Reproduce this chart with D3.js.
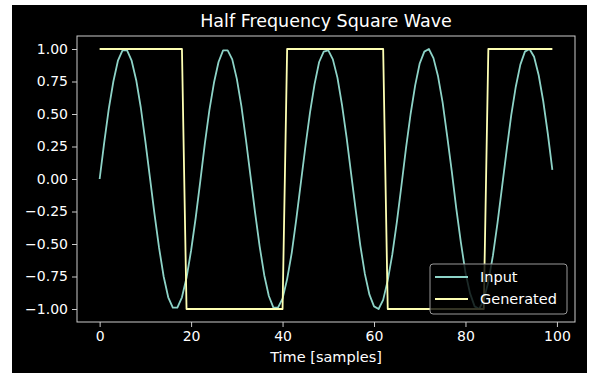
<!DOCTYPE html>
<html>
<head>
<meta charset="utf-8">
<script src="https://cdn.jsdelivr.net/npm/d3@7"></script>
<style>
  body { margin: 0; background: #fff; }
  svg { display: block; }
  text { font-family: "DejaVu Sans", sans-serif; fill: #fff; }
</style>
</head>
<body>
<div id="my_dataviz"></div>
<script>
// the values
var inputValues = [
  0.00, 0.28, 0.54, 0.75, 0.91, 0.99, 0.99, 0.91, 0.76, 0.55,
  0.29, 0.01, -0.27, -0.53, -0.75, -0.91, -0.99, -0.99, -0.91, -0.76,
  -0.55, -0.30, -0.02, 0.27, 0.53, 0.74, 0.90, 0.99, 0.99, 0.92,
  0.77, 0.56, 0.30, 0.02, -0.26, -0.52, -0.74, -0.90, -0.99, -0.99,
  -0.92, -0.77, -0.57, -0.31, -0.03, 0.25, 0.51, 0.73, 0.90, 0.98,
  0.99, 0.92, 0.78, 0.57, 0.32, 0.04, -0.24, -0.51, -0.73, -0.89,
  -0.98, -1.00, -0.93, -0.78, -0.58, -0.33, -0.05, 0.24, 0.50, 0.72,
  0.89, 0.98, 1.00, 0.93, 0.79, 0.59, 0.33, 0.06, -0.23, -0.49,
  -0.72, -0.88, -0.98, -1.00, -0.93, -0.79, -0.59, -0.34, -0.06, 0.22,
  0.49, 0.71, 0.88, 0.98, 1.00, 0.94, 0.80, 0.60, 0.35, 0.07
];

var generatedValues = [
  1, 1, 1, 1, 1, 1, 1, 1, 1, 1,
  1, 1, 1, 1, 1, 1, 1, 1, 1, -1,
  -1, -1, -1, -1, -1, -1, -1, -1, -1, -1,
  -1, -1, -1, -1, -1, -1, -1, -1, -1, -1,
  -1, 1, 1, 1, 1, 1, 1, 1, 1, 1,
  1, 1, 1, 1, 1, 1, 1, 1, 1, 1,
  1, 1, 1, -1, -1, -1, -1, -1, -1, -1,
  -1, -1, -1, -1, -1, -1, -1, -1, -1, -1,
  -1, -1, -1, -1, -1, 1, 1, 1, 1, 1,
  1, 1, 1, 1, 1, 1, 1, 1, 1, 1
];

var xTicks = [0, 20, 40, 60, 80, 100];
var yTicks = [-1, -0.75, -0.5, -0.25, 0, 0.25, 0.5, 0.75, 1];
var seriesNames = ["Input", "Generated"];
var seriesColors = ["#8dd3c7", "#feffb3"];

var width = 589, height = 373;
// plot area (don't call it "top", that's window.top)
var plotLeft = 77, plotRight = 575, plotTop = 36, plotBottom = 322;

var svg = d3.select("#my_dataviz")
  .append("svg")
    .attr("width", width)
    .attr("height", height);

// black figure on white page
svg.append("rect")
  .attr("x", 12).attr("y", 5)
  .attr("width", 575).attr("height", 368)
  .attr("fill", "#000");

// matplotlib-like 5% margins
var x = d3.scaleLinear().domain([-4.95, 103.95]).range([plotLeft, plotRight]);
var y = d3.scaleLinear().domain([-1.1, 1.1]).range([plotBottom, plotTop]);

var line = d3.line()
  .x(function(d, i) { return x(i); })
  .y(function(d) { return y(d); });

var series = [inputValues, generatedValues];

svg.selectAll(".series")
  .data(series)
  .enter()
  .append("path")
    .attr("class", "series")
    .attr("d", line)
    .attr("fill", "none")
    .attr("stroke", function(d, i) { return seriesColors[i]; })
    .attr("stroke-width", 1.8)
    .attr("stroke-linejoin", "round");

// axes
var xAxis = svg.append("g")
  .attr("transform", "translate(0," + plotBottom + ")")
  .call(d3.axisBottom(x).tickValues(xTicks).tickSize(5).tickPadding(4).tickFormat(d3.format("d")));

var yAxis = svg.append("g")
  .attr("transform", "translate(" + plotLeft + ",0)")
  .call(d3.axisLeft(y).tickValues(yTicks).tickSize(5).tickPadding(4).tickFormat(d3.format(".2f")));

[xAxis, yAxis].forEach(function(g) {
  g.select(".domain").remove();
  g.selectAll(".tick line").attr("stroke", "#ccc").attr("stroke-width", 1);
  g.selectAll(".tick text")
    .attr("fill", "#fff")
    .style("font-size", "14px")
    .style("font-family", "DejaVu Sans");
});

// frame
svg.append("rect")
  .attr("x", plotLeft).attr("y", plotTop)
  .attr("width", plotRight - plotLeft).attr("height", plotBottom - plotTop)
  .attr("fill", "none")
  .attr("stroke", "#ccc")
  .attr("stroke-width", 1);

// title and label
svg.append("text")
  .attr("x", (plotLeft + plotRight) / 2)
  .attr("y", 27)
  .attr("text-anchor", "middle")
  .style("font-size", "17.5px")
  .text("Half Frequency Square Wave");

svg.append("text")
  .attr("x", (plotLeft + plotRight) / 2)
  .attr("y", 362)
  .attr("text-anchor", "middle")
  .style("font-size", "14.5px")
  .text("Time [samples]");

// legend
var legend = svg.append("g").attr("transform", "translate(430,264)");

legend.append("rect")
  .attr("width", 137).attr("height", 50)
  .attr("rx", 3)
  .attr("fill", "#000")
  .attr("fill-opacity", 0.8)
  .attr("stroke", "#999")
  .attr("stroke-width", 1);

seriesNames.forEach(function(name, i) {
  var ly = 13 + i * 22;
  legend.append("line")
    .attr("x1", 5).attr("x2", 38)
    .attr("y1", ly).attr("y2", ly)
    .attr("stroke", seriesColors[i])
    .attr("stroke-width", 1.8);
  legend.append("text")
    .attr("x", 50).attr("y", ly + 5)
    .style("font-size", "14.5px")
    .text(name);
});
</script>
</body>
</html>
